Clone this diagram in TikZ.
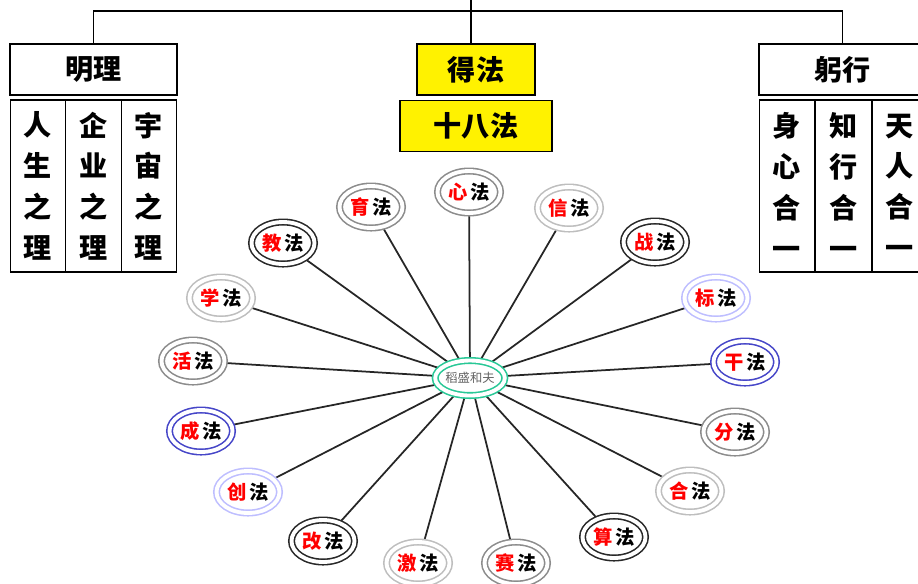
\documentclass[tikz,border=0pt]{standalone}
\usepackage{fontspec}
\newfontfamily\cjk{Noto Sans CJK SC}
\usetikzlibrary{shapes.geometric, backgrounds}

\definecolor{ringblack}{RGB}{40,40,40}
\definecolor{ringgray}{RGB}{140,140,140}
\definecolor{ringlight}{RGB}{190,190,190}
\definecolor{ringblue}{RGB}{70,70,200}
\definecolor{ringlav}{RGB}{190,190,255}
\definecolor{ringteal}{RGB}{40,200,150}
\definecolor{hubtext}{RGB}{100,100,100}

\def\falabel#1{\textcolor{red}{#1}\,法}

\begin{document}
\begin{tikzpicture}[x=0.02cm, y=-0.02cm, every node/.style={font=\cjk}]
      \def\ringwidth{0.9pt}
      \def\ringgap{2.2pt}
      \tikzset{
        fa/.style={ellipse, draw=#1, double=white, double distance=\ringgap, line width=\ringwidth, fill=white,
                   minimum width=1.26cm, minimum height=0.84cm, inner sep=0pt, font=\cjk\bfseries\fontsize{11}{13}\selectfont},
        headbox/.style={draw, line width=0.8pt, minimum width=3.34cm, minimum height=1.02cm, inner sep=0pt,
                   font=\cjk\bfseries\fontsize{16}{20}\selectfont},
        colbox/.style={draw, line width=0.8pt, minimum width=1.11cm, minimum height=3.44cm, inner sep=0pt, align=center,
                   font=\cjk\bfseries\fontsize{16}{23.2}\selectfont},
        spoke/.style={line width=1pt, black!85}
      }
      \useasboundingbox (0,0) rectangle (918,583);
      \clip (0,0) rectangle (918,583);

      %top boxes
      \node[headbox, name=mingli  ] at (93.5,69.5) {明理};
      \node[headbox, name=gongxing] at (842.5,69.5) {躬行};
      \node[headbox, fill=yellow, minimum width=2.36cm, name=defa ] at (476,69.5) {得法};
      \node[headbox, fill=yellow, minimum width=3.04cm, name=shiba] at (476,126) {十八法};

      %columns
      \node[colbox, name=rensheng] at (38,186)    {人\\生\\之\\理};
      \node[colbox, name=qiye    ] at (93.5,186)  {企\\业\\之\\理};
      \node[colbox, name=yuzhou  ] at (149,186)   {宇\\宙\\之\\理};
      \node[colbox, name=shenxin ] at (787,186)   {身\\心\\合\\一};
      \node[colbox, name=zhixing ] at (843.5,186) {知\\行\\合\\一};
      \node[colbox, line width=1.3pt, name=tianren] at (900,186) {天\\人\\合\\一};

      %top bar
      \coordinate (top) at (471,0);
      \coordinate (bar) at (471,11);
      \draw[line width=1.1pt] (top) -- (top |- defa.north);
      \draw[line width=1.1pt] (mingli.north) |- (bar) -| (gongxing.north);

      %rings
      \node[fa=ringgray , name=xin  ] at (469,192) {\falabel{心}};
      \node[fa=ringgray , name=yu   ] at (371,207) {\falabel{育}};
      \node[fa=ringlight, name=xinf ] at (569,208) {\falabel{信}};
      \node[fa=ringblack, name=jiao ] at (283,243) {\falabel{教}};
      \node[fa=ringblack, name=zhan ] at (655,242) {\falabel{战}};
      \node[fa=ringlight, name=xue  ] at (221,298) {\falabel{学}};
      \node[fa=ringlav  , name=biao ] at (716,298) {\falabel{标}};
      \node[fa=ringgray , name=huo  ] at (193,361) {\falabel{活}};
      \node[fa=ringblue , name=gan  ] at (745,362) {\falabel{干}};
      \node[fa=ringblue , name=cheng] at (201,431) {\falabel{成}};
      \node[fa=ringgray , name=fen  ] at (735,432) {\falabel{分}};
      \node[fa=ringlav  , name=chuang] at (248,492) {\falabel{创}};
      \node[fa=ringlight, name=he   ] at (690,491) {\falabel{合}};
      \node[fa=ringblack, name=gai  ] at (323,541) {\falabel{改}};
      \node[fa=ringblack, name=suan ] at (614,537) {\falabel{算}};
      \node[fa=ringlight, name=ji   ] at (418,563) {\falabel{激}};
      \node[fa=ringgray , name=sai  ] at (516,563) {\falabel{赛}};

      %hub
      \node[fa=ringteal, minimum width=1.16cm, minimum height=0.7cm, font=\cjk\fontsize{7}{8}\selectfont, text=hubtext, name=hub] at (470,378) {稻盛和夫};

      %spokes
      \begin{pgfonlayer}{background}
      \draw[spoke] (hub) -- (xin);
      \draw[spoke] (hub) -- (yu);
      \draw[spoke] (hub) -- (xinf);
      \draw[spoke] (hub) -- (jiao);
      \draw[spoke] (hub) -- (zhan);
      \draw[spoke] (hub) -- (xue);
      \draw[spoke] (hub) -- (biao);
      \draw[spoke] (hub) -- (huo);
      \draw[spoke] (hub) -- (gan);
      \draw[spoke] (hub) -- (cheng);
      \draw[spoke] (hub) -- (fen);
      \draw[spoke] (hub) -- (chuang);
      \draw[spoke] (hub) -- (he);
      \draw[spoke] (hub) -- (gai);
      \draw[spoke] (hub) -- (suan);
      \draw[spoke] (hub) -- (ji);
      \draw[spoke] (hub) -- (sai);
      \end{pgfonlayer}
\end{tikzpicture}
\end{document}
